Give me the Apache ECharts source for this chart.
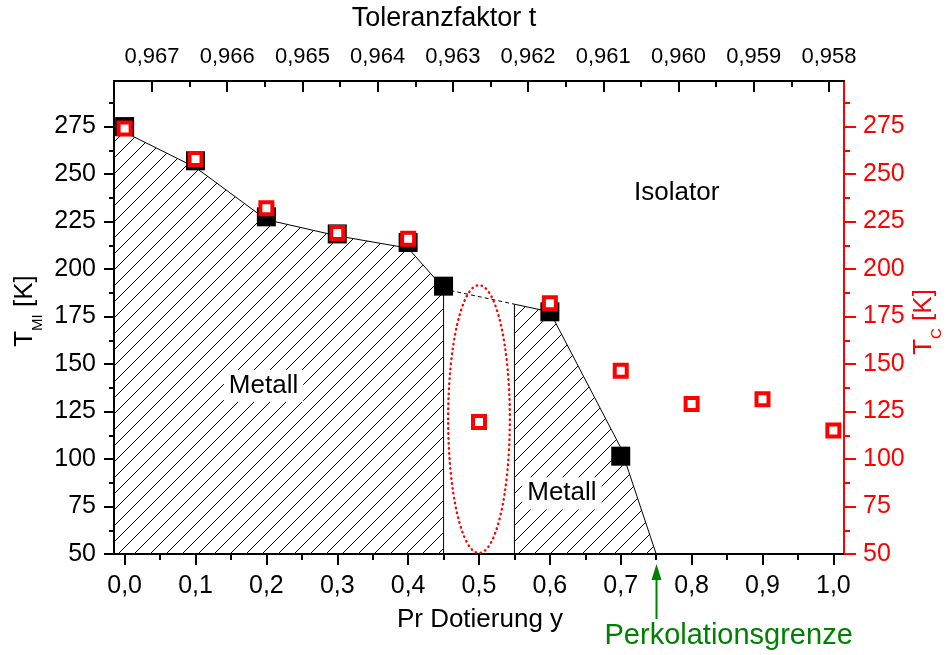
<!DOCTYPE html>
<html>
<head>
<meta charset="utf-8">
<script src="https://cdn.jsdelivr.net/npm/echarts@6/dist/echarts.min.js"></script>
<style>
  html, body { margin: 0; padding: 0; background: #fff; }
  #chart { width: 948px; height: 655px; }
</style>
</head>
<body>
<div id="chart"></div>
<script>
// Metal-insulator transition temperature T_MI versus Pr doping y
const dopingMI = [0.0, 0.1, 0.2, 0.3, 0.4, 0.45, 0.6, 0.7];
const tempMI = [275, 257, 227.5, 218.5, 214, 191, 177.5, 101.5];

// Curie temperature T_C versus Pr doping y
const dopingC = [0.0, 0.1, 0.2, 0.3, 0.4, 0.5, 0.6, 0.7, 0.8, 0.9, 1.0];
const tempC = [274, 258, 232, 219, 216, 119.5, 182, 146.5, 129, 131.5, 115];

// Boundaries of the two metallic regions (y, T)
const metal1X = [-0.015, 0.0, 0.1, 0.2, 0.3, 0.4, 0.45, 0.45, -0.015];
const metal1T = [274.5, 272, 253.5, 226, 217.5, 211, 190, 50, 50];
const metal2X = [0.55, 0.6, 0.7, 0.75, 0.55];
const metal2T = [181.5, 177.5, 106, 50, 50];
// Interpolated phase boundary across the gap
const gapX = [0.45, 0.55];
const gapT = [189.5, 181.5];

// Tick values
const xTicks = [0.0, 0.1, 0.2, 0.3, 0.4, 0.5, 0.6, 0.7, 0.8, 0.9, 1.0];
const xMinorTicks = [0.05, 0.15, 0.25, 0.35, 0.45, 0.55, 0.65, 0.75, 0.85, 0.95];
const tTicks = [0.958, 0.959, 0.960, 0.961, 0.962, 0.963, 0.964, 0.965, 0.966, 0.967];
const tMinorTicks = [0.9585, 0.9595, 0.9605, 0.9615, 0.9625, 0.9635, 0.9645, 0.9655, 0.9665];
const yTicks = [50, 75, 100, 125, 150, 175, 200, 225, 250, 275];
const yMinorTicks = [62.5, 87.5, 112.5, 137.5, 162.5, 187.5, 212.5, 237.5, 262.5, 287.5];

// Axis ranges
const X_MIN = -0.015, X_MAX = 1.015;
const T_MIN = 0.9578, T_MAX = 0.967505;
const Y_MIN = 50, Y_MAX = 299;

// Region marked around y = 0.5
const ELLIPSE = { cx: 0.5, cy: 121, rx: 0.0435, ry: 70.5 };
// Percolation limit
const PERCOLATION_Y = 0.75;

const FONT = '"Liberation Sans", Arial, Helvetica, sans-serif';
const RED = '#ff0000';
const GREEN = '#008000';

function hatchCanvas() {
  const s = 16;
  const c = document.createElement('canvas');
  c.width = s; c.height = s;
  const g = c.getContext('2d');
  g.strokeStyle = '#000';
  g.lineWidth = 1;
  g.beginPath();
  g.moveTo(-2, s + 2); g.lineTo(s + 2, -2);
  g.moveTo(-2, 2); g.lineTo(2, -2);
  g.moveTo(s - 2, s + 2); g.lineTo(s + 2, s - 2);
  g.stroke();
  return c;
}
const hatch = { image: hatchCanvas(), repeat: 'repeat' };

const pts = (api, xs, ys) => xs.map((x, i) => api.coord([x, ys[i]]));
const fmtComma = d => v => v.toFixed(d).replace('.', ',');

function majorAxis(extra) {
  return Object.assign({
    type: 'value',
    splitLine: { show: false },
    axisLine: { show: true, onZero: false, lineStyle: { color: '#000', width: 2 } }
  }, extra);
}
function minorAxis(extra) {
  return Object.assign({
    type: 'value',
    splitLine: { show: false },
    axisLine: { show: false, onZero: false },
    axisLabel: { show: false }
  }, extra);
}

const chart = echarts.init(document.getElementById('chart'), null, { renderer: 'canvas' });

const option = {
  animation: false,
  backgroundColor: '#fff',
  grid: { left: 114, right: 104, top: 81, bottom: 101, containLabel: false, outerBoundsMode: 'none' },
  xAxis: [
    majorAxis({
      position: 'bottom', min: X_MIN, max: X_MAX,
      axisTick: { show: true, length: 11, customValues: xTicks, lineStyle: { color: '#000', width: 2 } },
      axisLabel: { customValues: xTicks, formatter: fmtComma(1), fontSize: 25, fontFamily: FONT, color: '#000', margin: 20 }
    }),
    minorAxis({
      position: 'bottom', min: X_MIN, max: X_MAX,
      axisTick: { show: true, length: 6, customValues: xMinorTicks, lineStyle: { color: '#000', width: 2 } }
    }),
    majorAxis({
      position: 'top', min: T_MIN, max: T_MAX, inverse: true,
      axisTick: { show: true, inside: true, length: 11, customValues: tTicks, lineStyle: { color: '#000', width: 2 } },
      axisLabel: { customValues: tTicks, formatter: fmtComma(3), fontSize: 22, fontFamily: FONT, color: '#000', margin: 13 }
    }),
    minorAxis({
      position: 'top', min: T_MIN, max: T_MAX, inverse: true,
      axisTick: { show: true, inside: true, length: 6, customValues: tMinorTicks, lineStyle: { color: '#000', width: 2 } }
    })
  ],
  yAxis: [
    majorAxis({
      position: 'left', min: Y_MIN, max: Y_MAX,
      axisTick: { show: true, length: 10, customValues: yTicks, lineStyle: { color: '#000', width: 2 } },
      axisLabel: { customValues: yTicks, fontSize: 25, fontFamily: FONT, color: '#000', margin: 18 }
    }),
    minorAxis({
      position: 'left', min: Y_MIN, max: Y_MAX,
      axisTick: { show: true, length: 5, customValues: yMinorTicks, lineStyle: { color: '#000', width: 2 } }
    }),
    majorAxis({
      position: 'right', min: Y_MIN, max: Y_MAX,
      axisLine: { show: true, onZero: false, lineStyle: { color: RED, width: 2 } },
      axisTick: { show: true, length: 12, customValues: yTicks, lineStyle: { color: RED, width: 2 } },
      axisLabel: { customValues: yTicks, fontSize: 25, fontFamily: FONT, color: RED, margin: 19 }
    }),
    minorAxis({
      position: 'right', min: Y_MIN, max: Y_MAX,
      axisTick: { show: true, length: 6, customValues: yMinorTicks, lineStyle: { color: RED, width: 2 } }
    })
  ],
  series: [
    {
      // hatched metallic regions and phase boundary
      type: 'custom', xAxisIndex: 0, yAxisIndex: 0, silent: true, z: 1,
      data: [[0, 0]],
      renderItem: (params, api) => ({
        type: 'group',
        children: [
          { type: 'polygon', shape: { points: pts(api, metal1X, metal1T) },
            style: { fill: hatch, stroke: '#000', lineWidth: 1 } },
          { type: 'polygon', shape: { points: pts(api, metal2X, metal2T) },
            style: { fill: hatch, stroke: '#000', lineWidth: 1 } },
          { type: 'polyline', shape: { points: pts(api, gapX, gapT) },
            style: { fill: null, stroke: '#000', lineWidth: 1, lineDash: [4, 3] } }
        ]
      })
    },
    {
      // dotted ellipse around y = 0.5
      type: 'custom', xAxisIndex: 0, yAxisIndex: 0, silent: true, z: 2,
      data: [[ELLIPSE.cx, ELLIPSE.cy]],
      renderItem: (params, api) => {
        const c = api.coord([ELLIPSE.cx, ELLIPSE.cy]);
        const e = api.coord([ELLIPSE.cx + ELLIPSE.rx, ELLIPSE.cy + ELLIPSE.ry]);
        return {
          type: 'ellipse',
          shape: { cx: c[0], cy: c[1], rx: Math.abs(e[0] - c[0]), ry: Math.abs(c[1] - e[1]) },
          style: { fill: null, stroke: RED, lineWidth: 2.4, lineDash: [0.5, 4.5], lineCap: 'round' }
        };
      }
    },
    {
      // region names
      type: 'custom', xAxisIndex: 0, yAxisIndex: 0, silent: true, z: 3,
      data: [[0.196, 138.5], [0.617, 82], [0.779, 240]],
      renderItem: (params, api) => {
        const p = api.coord([api.value(0), api.value(1)]);
        const name = ['Metall', 'Metall', 'Isolator'][params.dataIndex];
        return {
          type: 'text', x: p[0], y: p[1],
          style: {
            text: name, font: '26px ' + FONT, fill: '#000',
            align: 'center', verticalAlign: 'middle',
            backgroundColor: name === 'Isolator' ? null : '#fff', padding: [3, 5]
          }
        };
      }
    },
    {
      name: 'T_MI', type: 'scatter', xAxisIndex: 0, yAxisIndex: 0, z: 4,
      symbol: 'rect', symbolSize: 19,
      itemStyle: { color: '#000', opacity: 1 },
      emphasis: { disabled: true },
      data: dopingMI.map((x, i) => [x, tempMI[i]])
    },
    {
      name: 'T_C', type: 'scatter', xAxisIndex: 0, yAxisIndex: 2, z: 5,
      symbol: 'rect', symbolSize: 12,
      itemStyle: { color: '#fff', borderColor: RED, borderWidth: 4, opacity: 1 },
      emphasis: { disabled: true },
      data: dopingC.map((x, i) => [x, tempC[i]])
    },
    {
      // percolation limit arrow
      type: 'custom', xAxisIndex: 0, yAxisIndex: 0, silent: true, z: 6, clip: false,
      data: [[PERCOLATION_Y, Y_MIN]],
      renderItem: (params, api) => {
        const p = api.coord([PERCOLATION_Y, Y_MIN]);
        const x = Math.round(p[0]) + 0.5, y0 = p[1];
        return {
          type: 'group',
          children: [
            { type: 'line', shape: { x1: x, y1: y0 + 24, x2: x, y2: y0 + 65 },
              style: { stroke: GREEN, lineWidth: 2 } },
            { type: 'polygon', shape: { points: [[x, y0 + 10], [x - 5, y0 + 26], [x + 5, y0 + 26]] },
              style: { fill: GREEN } },
            { type: 'text', x: x - 52, y: y0 + 82,
              style: { text: 'Perkolationsgrenze', font: '29px ' + FONT, fill: GREEN,
                       align: 'left', verticalAlign: 'middle' } }
          ]
        };
      }
    }
  ],
  graphic: [
    { type: 'text', x: 444, y: 19,
      style: { text: 'Toleranzfaktor t', font: '27px ' + FONT, fill: '#000', align: 'center', verticalAlign: 'middle' } },
    { type: 'text', x: 480, y: 620,
      style: { text: 'Pr Dotierung y', font: '26px ' + FONT, fill: '#000', align: 'center', verticalAlign: 'middle' } },
    { type: 'text', x: 25, y: 311, rotation: Math.PI / 2,
      style: {
        text: '{a|T}{b|MI}{a| [K]}', align: 'center', verticalAlign: 'middle',
        rich: {
          a: { fontSize: 26, fontFamily: FONT, fill: '#000', lineHeight: 40 },
          b: { fontSize: 15, fontFamily: FONT, fill: '#000', lineHeight: 11, verticalAlign: 'bottom' }
        }
      } },
    { type: 'text', x: 924, y: 322, rotation: Math.PI / 2,
      style: {
        text: '{a|T}{b|C}{a| [K]}', align: 'center', verticalAlign: 'middle',
        rich: {
          a: { fontSize: 26, fontFamily: FONT, fill: RED, lineHeight: 40 },
          b: { fontSize: 15, fontFamily: FONT, fill: RED, lineHeight: 11, verticalAlign: 'bottom' }
        }
      } }
  ]
};

chart.setOption(option);
</script>
</body>
</html>
